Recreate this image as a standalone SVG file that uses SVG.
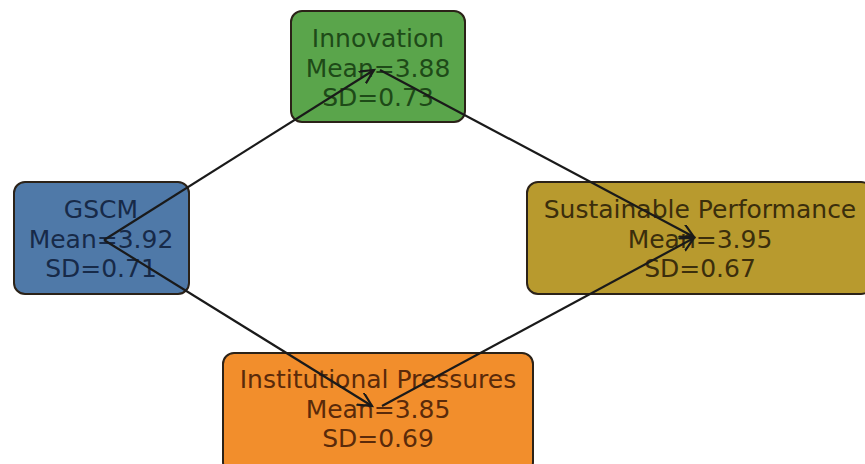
<svg xmlns="http://www.w3.org/2000/svg" width="865" height="464" viewBox="0 0 865 464">
<style>
.box{stroke:#2b2218;stroke-width:2}
.t{font-family:"DejaVu Sans",sans-serif;font-size:25px;text-anchor:middle}
.edge{stroke:#1a1a1a;stroke-width:2.2;fill:none;marker-end:url(#ah)}
</style>
<defs>
<marker id="ah" markerUnits="userSpaceOnUse" markerWidth="20" markerHeight="20" refX="14" refY="7" orient="auto">
<path d="M0,0 L14,7 L0,14" fill="none" stroke="#1a1a1a" stroke-width="2.2"/>
</marker>
</defs>
<rect width="865" height="464" fill="#ffffff"/>
<g id="innovation">
<rect class="box" x="291" y="11" width="174" height="111" rx="11" fill="#5aa54b"/>
<text class="t" fill="#1e4a18"><tspan x="378" y="47">Innovation</tspan><tspan x="378" y="77">Mean=3.88</tspan><tspan x="378" y="106">SD=0.73</tspan></text>
</g>
<g id="gscm">
<rect class="box" x="14" y="182" width="175" height="112" rx="11" fill="#4f79a8"/>
<text class="t" fill="#172a48"><tspan x="101" y="218">GSCM</tspan><tspan x="101" y="248">Mean=3.92</tspan><tspan x="101" y="277">SD=0.71</tspan></text>
</g>
<g id="sustainable">
<rect class="box" x="527" y="182" width="345" height="112" rx="11" fill="#b89a2e"/>
<text class="t" fill="#3b2e0c"><tspan x="700" y="218">Sustainable Performance</tspan><tspan x="700" y="248">Mean=3.95</tspan><tspan x="700" y="277">SD=0.67</tspan></text>
</g>
<g id="institutional">
<rect class="box" x="223" y="353" width="310" height="120" rx="11" fill="#f28e2c"/>
<text class="t" fill="#5a2a0a"><tspan x="378" y="388">Institutional Pressures</tspan><tspan x="378" y="418">Mean=3.85</tspan><tspan x="378" y="447">SD=0.69</tspan></text>
</g>
<g id="connectors">
<line class="edge" x1="104" y1="240" x2="374" y2="70"/>
<line class="edge" x1="104" y1="240" x2="372" y2="406"/>
<line class="edge" x1="380" y1="70" x2="694" y2="237"/>
<line class="edge" x1="382" y1="406" x2="694" y2="238"/>
</g>
</svg>
